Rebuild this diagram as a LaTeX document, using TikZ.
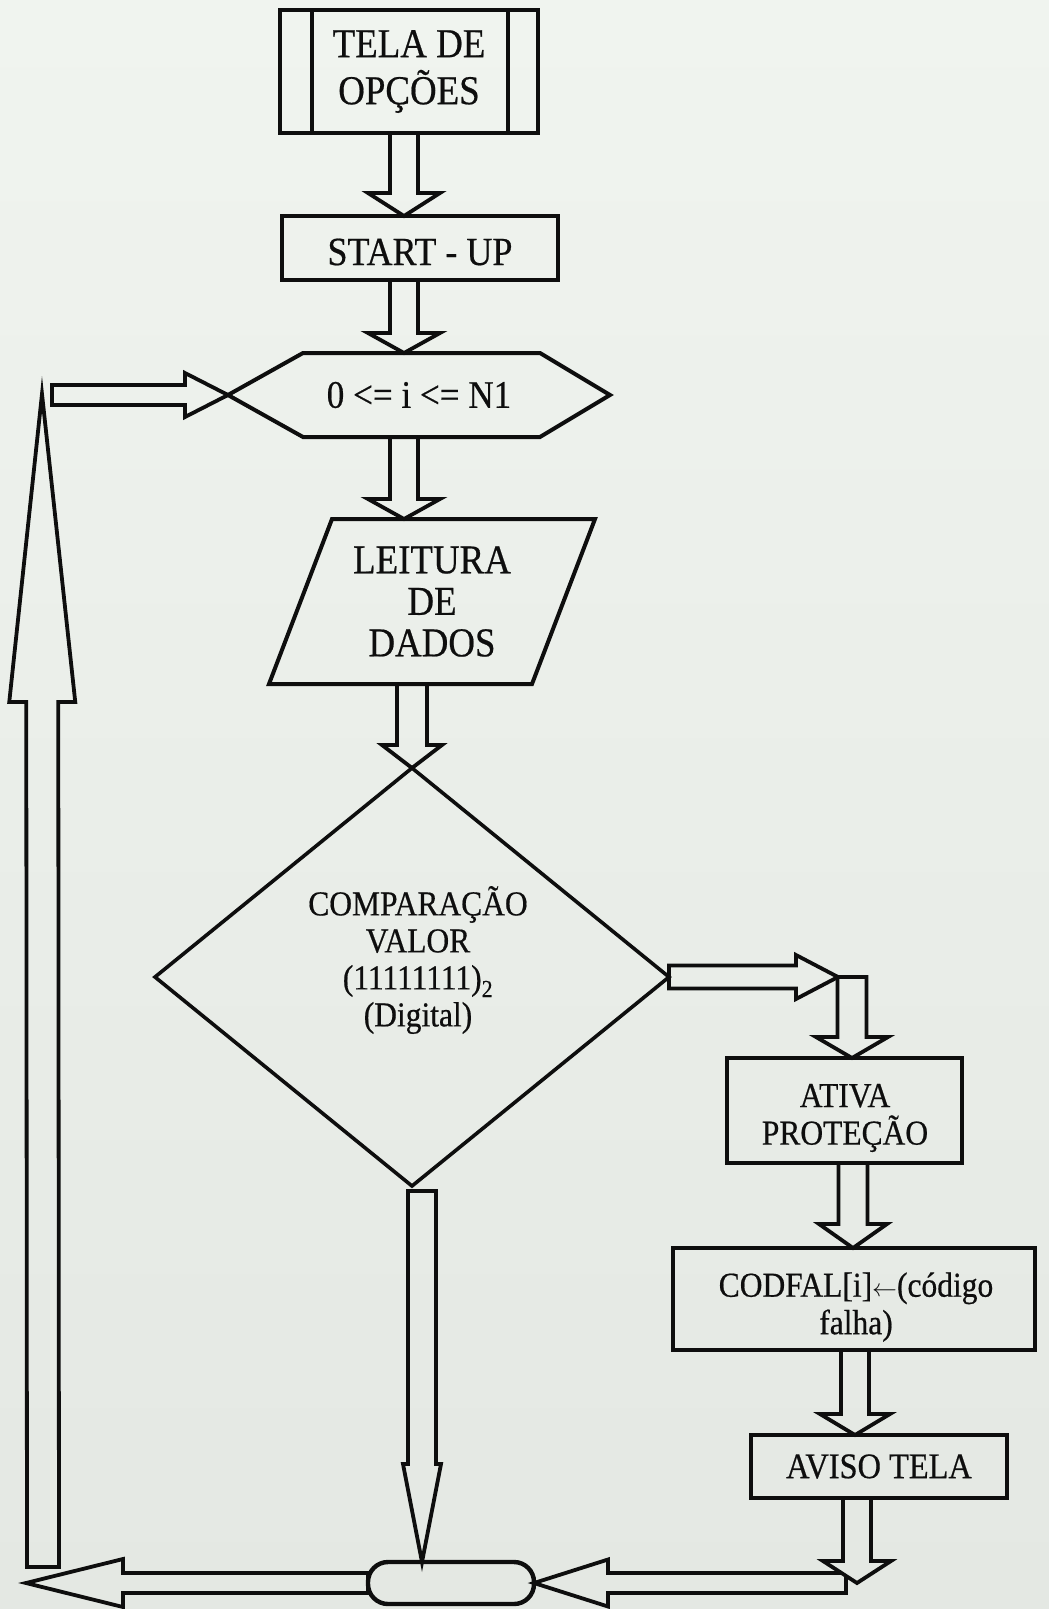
\documentclass[tikz,border=0pt]{standalone}
\usepackage{fontspec}
\setmainfont{Liberation Serif}[FakeStretch=0.9,FakeBold=0.5]
\usetikzlibrary{calc}

\definecolor{papertop}{RGB}{240,244,239}
\definecolor{paperbot}{RGB}{228,232,227}
\definecolor{ink}{RGB}{14,14,14}

% Block (outlined) arrow from #2 to #3: half shaft width #4, half head width #5, head length #6
\newcommand{\blockarrow}[6][]{%
  \path (#2) coordinate (bas) (#3) coordinate (bae);
  \coordinate (bac) at ($(bae)!#6!(bas)$);
  \draw[blk,#1] ($(bas)!#4!90:(bae)$) -- ($(bac)!#4!90:(bae)$) -- ($(bac)!#5!90:(bae)$)
    -- (bae) -- ($(bac)!#5!-90:(bae)$) -- ($(bac)!#4!-90:(bae)$) -- ($(bas)!#4!-90:(bae)$) -- cycle;}

\begin{document}
\begin{tikzpicture}[x=1pt,y=-1pt,
  box/.style={draw=ink, line width=4.4pt, rectangle, inner sep=0pt, outer sep=0pt, align=center, text=ink},
  plain/.style={inner sep=0pt, outer sep=0pt, align=center, text=ink},
  outline/.style={draw=ink, line width=4pt, line join=miter},
  blk/.style={draw=ink, line width=3.8pt, line join=miter},
  ftela/.style={font=\fontsize{41}{47}\selectfont},
  fstart/.style={font=\fontsize{40}{44}\selectfont},
  fhex/.style={font=\fontsize{39}{44}\selectfont},
  fleit/.style={font=\fontsize{41}{41.5}\selectfont},
  fcmp/.style={font=\fontsize{35}{37}\selectfont},
  fside/.style={font=\fontsize{35}{37.5}\selectfont},
  faviso/.style={font=\fontsize{36}{40}\selectfont}]

\useasboundingbox (0,0) rectangle (1049,1609);
\shade[top color=papertop, bottom color=paperbot] (0,0) rectangle (1049,1609);

% main column
\node[box, ftela, minimum width=258pt, minimum height=123pt] (tela) at (409,71.5) {TELA DE\\OPÇÕES};
\draw[outline, line width=4.4pt] ([xshift=32pt]tela.north west) -- ([xshift=32pt]tela.south west)
  ([xshift=-30pt]tela.north east) -- ([xshift=-30pt]tela.south east);

\node[box, minimum width=276pt, minimum height=64pt] (start) at (420,248) {};
\node[plain, fstart] (starttxt) at (420,252) {START - UP};

\node[plain, fhex, minimum width=382pt, minimum height=84pt] (hex) at (419,395) {0 <= i <= N1};
\draw[outline] (hex.west) -- ([xshift=75pt]hex.north west) -- ([xshift=-70pt]hex.north east)
  -- (hex.east) -- ([xshift=-70pt]hex.south east) -- ([xshift=75pt]hex.south west) -- cycle;

\node[plain, fleit, minimum width=326pt, minimum height=165pt] (leit) at (432,601.5) {LEITURA\\DE\\DADOS};
\draw[outline] ([xshift=63pt]leit.north west) -- (leit.north east)
  -- ([xshift=-63pt]leit.south east) -- (leit.south west) -- cycle;

\node[plain, minimum width=514pt, minimum height=418pt] (cmp) at (412,977) {};
\draw[outline, line width=3.6pt] (cmp.north) -- (cmp.east) -- (cmp.south) -- (cmp.west) -- cycle;
\node[plain, fcmp] (cmptxt) at (418,960) {COMPARAÇÃO\\VALOR\\(11111111)\textsubscript{2}\\(Digital)};

% right branch
\node[box, minimum width=235pt, minimum height=105pt] (ativa) at (844.5,1110.5) {};
\node[plain, fside] (ativatxt) at (845,1118) {ATIVA\\PROTEÇÃO};
\node[box, minimum width=362pt, minimum height=102pt] (codfal) at (854,1299) {};
\node[plain, fside] (codfaltxt) at (856,1307) {CODFAL[i]$\leftarrow$(código\\falha)};
\node[box, faviso, minimum width=256pt, minimum height=63pt] (aviso) at (879,1466.5) {AVISO TELA};

% end connector
\node[box, rounded corners=20pt, minimum width=166pt, minimum height=42pt] (term) at (451,1583) {};

% helper points
\coordinate (ax) at (404,0);
\coordinate (ax2) at (412,0);
\coordinate (rx1) at (853,0);
\coordinate (rx2) at (855,0);
\coordinate (elbow) at (852,977);
\coordinate (join) at (857,1583);
\coordinate (ltip) at (26,1583);
\coordinate (lbot) at (43,1567);
\coordinate (ltop) at (42,394);
\coordinate (hin) at (52,395);

% flow arrows
\blockarrow{tela.south -| ax}{start.north -| ax}{14pt}{36pt}{23pt}
\blockarrow{start.south -| ax}{hex.north -| ax}{14pt}{36pt}{20pt}
\blockarrow{hex.south -| ax}{leit.north -| ax}{14pt}{36pt}{20pt}
\blockarrow{leit.south -| ax2}{cmp.north -| ax2}{15pt}{30pt}{23pt}

\blockarrow{cmp.east}{$(elbow)+(-14,0)$}{11.5pt}{22pt}{42pt}
\blockarrow{elbow}{elbow |- ativa.north}{14.5pt}{36pt}{21pt}
\blockarrow{ativa.south -| rx1}{codfal.north -| rx1}{14.5pt}{34pt}{24pt}
\blockarrow{codfal.south -| rx2}{aviso.north -| rx2}{14pt}{35pt}{21pt}

\blockarrow{$(join)+(-11,0)$}{term.east}{10pt}{23.5pt}{74pt}
\blockarrow[fill=paperbot]{aviso.south -| join}{join}{14pt}{34pt}{22pt}

\blockarrow{$(cmp.south)+(10,5)$}{$(term.north west)+(54,0)$}{14pt}{19pt}{98pt}

\blockarrow{term.west}{ltip}{10pt}{24pt}{97pt}
\blockarrow{lbot}{ltop}{16pt}{33pt}{308pt}
\blockarrow{hin}{hex.west}{10pt}{22pt}{43pt}
\end{tikzpicture}
\end{document}
